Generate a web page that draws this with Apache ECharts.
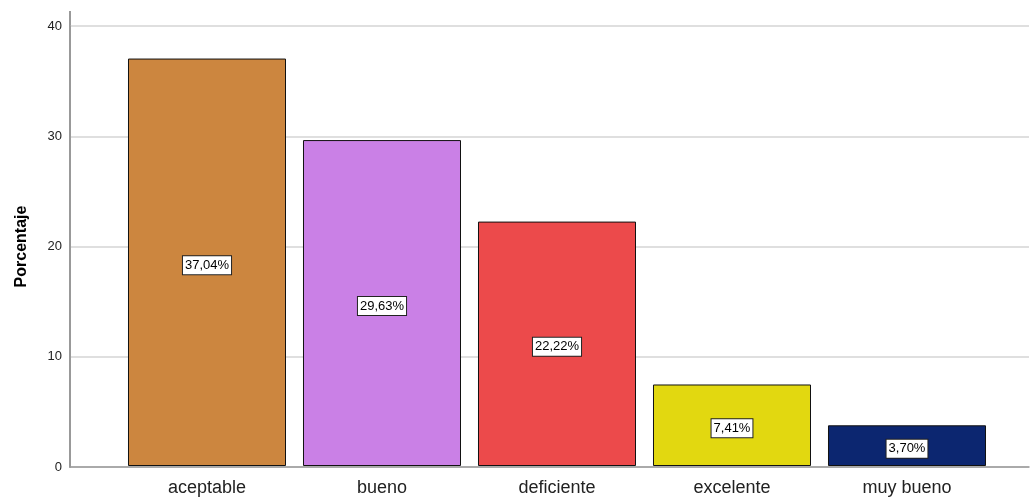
<!DOCTYPE html>
<html><head><meta charset="utf-8">
<script src="https://cdn.jsdelivr.net/npm/echarts@6/dist/echarts.min.js"></script>
<style>html,body{margin:0;padding:0;background:#fff}#c{width:1030px;height:497px}</style>
</head><body><div id="c"></div>
<script>
const categories = ['aceptable', 'bueno', 'deficiente', 'excelente', 'muy bueno'];
const values = [37.04, 29.63, 22.22, 7.41, 3.70];
const yTicks = [0, 10, 20, 30, 40];
const barColors = ['#CC863F', '#CA80E6', '#EC4A4B', '#E2D810', '#0C2670'];

const chart = echarts.init(document.getElementById('c'), null, {renderer: 'canvas'});
const font = '"Liberation Sans", Arial, sans-serif';
chart.setOption({
  animation: false,
  backgroundColor: '#fff',
  grid: [
    {left: 70, right: 1, top: 26, bottom: 30},
    {left: 119.5, right: 35.5, top: 26, bottom: 30}
  ],
  xAxis: [
    {gridIndex: 0, type: 'value', min: 0, max: 1, axisLine: {show: true, lineStyle: {color: '#999', width: 1.5}},
     axisTick: {show: false}, axisLabel: {show: false}, splitLine: {show: false}},
    {gridIndex: 1, type: 'category', data: categories, axisLine: {show: false}, axisTick: {show: false},
     axisLabel: {color: '#222', fontSize: 18, fontFamily: font, margin: 13}}
  ],
  yAxis: [
    {gridIndex: 0, type: 'value', min: yTicks[0], max: yTicks[yTicks.length - 1], interval: 10,
     name: 'Porcentaje', nameLocation: 'middle', nameGap: 40,
     nameTextStyle: {color: '#000', fontSize: 16, fontWeight: 'bold', fontFamily: font},
     axisLine: {show: true, lineStyle: {color: '#999', width: 2}}, axisTick: {show: false},
     axisLabel: {color: '#222', fontSize: 13, fontFamily: font, margin: 8, padding: [3, 0, 0, 0]},
     splitLine: {show: true, lineStyle: {color: '#d4d4d4', width: 1.5}}},
    {gridIndex: 1, type: 'value', min: yTicks[0], max: yTicks[yTicks.length - 1], show: false}
  ],
  graphic: [{type: 'line', shape: {x1: 70, y1: 11, x2: 70, y2: 26}, style: {stroke: '#999', lineWidth: 2}}],
  series: [{
    type: 'bar', xAxisIndex: 1, yAxisIndex: 1,
    data: values.map((v, i) => ({value: v, itemStyle: {color: barColors[i]}})),
    barCategoryGap: '9.7%',
    itemStyle: {borderColor: '#111', borderWidth: 1},
    label: {show: true, position: 'inside', color: '#000', fontSize: 13, fontFamily: font,
      backgroundColor: '#fff', borderColor: '#222', borderWidth: 1, padding: [3, 2, 2, 2],
      offset: [0, 3],
      formatter: p => p.value.toFixed(2).replace('.', ',') + '%'}
  }]
});
</script></body></html>
